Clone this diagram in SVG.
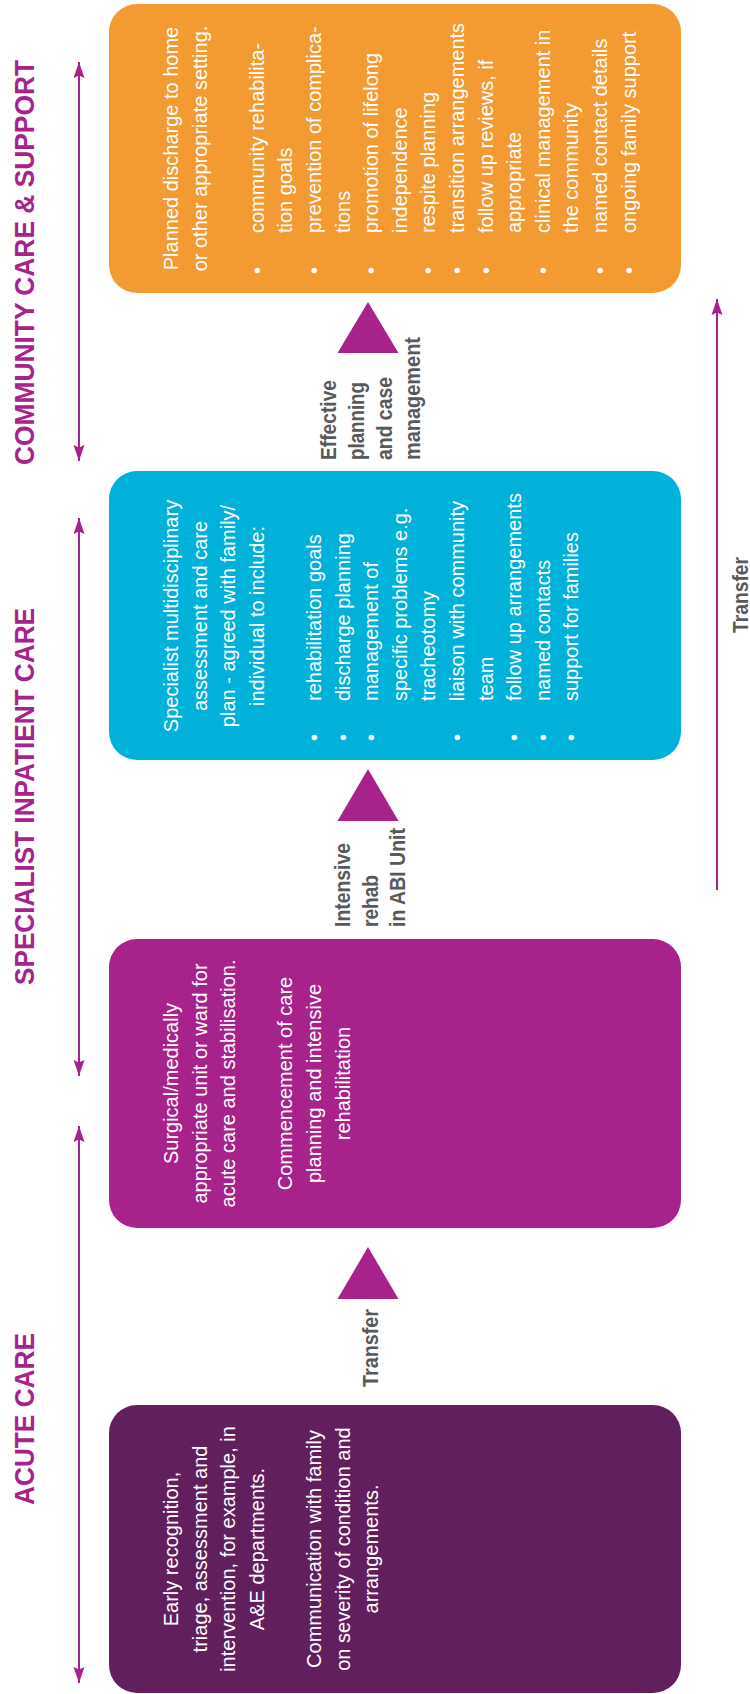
<svg xmlns="http://www.w3.org/2000/svg" width="750" height="1694" viewBox="0 0 750 1694">
<style>
  .body { font-family: "Liberation Sans", Arial, sans-serif; font-size: 20px; fill: #ffffff; }
  .mid { text-anchor: middle; }
  .lbl { font-family: "Liberation Sans", Arial, sans-serif; font-size: 22px; font-weight: bold; fill: #58595b; }
  .title { font-family: "Liberation Sans", Arial, sans-serif; font-size: 28px; font-weight: bold; fill: #a8228c; text-anchor: middle; }
  .axis { stroke: #a8228c; stroke-width: 2; fill: none; }
  .tri { fill: #a8228c; }
</style>
<defs>
  <marker id="ah" viewBox="0 0 16 12" refX="16" refY="6" markerWidth="16" markerHeight="12" markerUnits="userSpaceOnUse" orient="auto-start-reverse">
    <path d="M0,0.5 L16,6 L0,11.5 L2.5,6 Z" fill="#a8228c"/>
  </marker>
</defs>

<!-- Titles -->
<g id="titles" transform="rotate(-90)">
  <text class="title" x="-262.5" y="34" textLength="405" lengthAdjust="spacingAndGlyphs">COMMUNITY CARE &amp; SUPPORT</text>
  <text class="title" x="-796.5" y="34" textLength="377" lengthAdjust="spacingAndGlyphs">SPECIALIST INPATIENT CARE</text>
  <text class="title" x="-1419" y="34" textLength="172" lengthAdjust="spacingAndGlyphs">ACUTE CARE</text>
</g>

<!-- Connectors -->
<g id="connectors">
  <line class="axis" x1="79" y1="62" x2="79" y2="461" marker-start="url(#ah)" marker-end="url(#ah)"/>
  <line class="axis" x1="79" y1="518" x2="79" y2="1076" marker-start="url(#ah)" marker-end="url(#ah)"/>
  <line class="axis" x1="79" y1="1126" x2="79" y2="1683" marker-start="url(#ah)" marker-end="url(#ah)"/>
  <line class="axis" x1="717" y1="890" x2="717" y2="299" marker-end="url(#ah)"/>
  <polygon class="tri" points="368,302 337.5,353 398.5,353"/>
  <polygon class="tri" points="368,769 337.5,821 398.5,821"/>
  <polygon class="tri" points="368,1247 337.5,1299 398.5,1299"/>
  <g transform="rotate(-90)">
    <text class="lbl" x="-1387" y="378" textLength="78" lengthAdjust="spacingAndGlyphs">Transfer</text>
    <text class="lbl" x="-927" y="350" textLength="84" lengthAdjust="spacingAndGlyphs">Intensive</text>
    <text class="lbl" x="-927" y="377.5" textLength="52" lengthAdjust="spacingAndGlyphs">rehab</text>
    <text class="lbl" x="-927" y="405" textLength="99" lengthAdjust="spacingAndGlyphs">in ABI Unit</text>
    <text class="lbl" x="-460" y="336" textLength="80" lengthAdjust="spacingAndGlyphs">Effective</text>
    <text class="lbl" x="-460" y="364" textLength="78" lengthAdjust="spacingAndGlyphs">planning</text>
    <text class="lbl" x="-460" y="392" textLength="83" lengthAdjust="spacingAndGlyphs">and case</text>
    <text class="lbl" x="-460" y="420" textLength="123" lengthAdjust="spacingAndGlyphs">management</text>
    <text class="lbl" x="-633" y="748" textLength="76" lengthAdjust="spacingAndGlyphs">Transfer</text>
  </g>
</g>

<!-- Community care box -->
<g id="community-box">
  <rect x="109" y="4" width="572" height="289" rx="28" ry="28" fill="#f39a32"/>
  <g transform="rotate(-90)" class="body">
    <text class="mid" x="-148.5" y="178">Planned discharge to home</text>
    <text class="mid" x="-148.5" y="206.6">or other appropriate setting.</text>
    <text x="-274" y="263.8">•</text><text x="-233" y="263.8">community rehabilita-</text>
    <text x="-233" y="292.4">tion goals</text>
    <text x="-274" y="321">•</text><text x="-233" y="321">prevention of complica-</text>
    <text x="-233" y="349.6">tions</text>
    <text x="-274" y="378.2">•</text><text x="-233" y="378.2">promotion of lifelong</text>
    <text x="-233" y="406.8">independence</text>
    <text x="-274" y="435.4">•</text><text x="-233" y="435.4">respite planning</text>
    <text x="-274" y="464">•</text><text x="-233" y="464">transition arrangements</text>
    <text x="-274" y="492.6">•</text><text x="-233" y="492.6">follow up reviews, if</text>
    <text x="-233" y="521.2">appropriate</text>
    <text x="-274" y="549.8">•</text><text x="-233" y="549.8">clinical management in</text>
    <text x="-233" y="578.4">the community</text>
    <text x="-274" y="607">•</text><text x="-233" y="607">named contact details</text>
    <text x="-274" y="635.6">•</text><text x="-233" y="635.6">ongoing family support</text>
  </g>
</g>

<!-- Specialist inpatient box -->
<g id="inpatient-box">
  <rect x="109" y="471" width="572" height="289" rx="28" ry="28" fill="#00b1d9"/>
  <g transform="rotate(-90)" class="body">
    <text class="mid" x="-616" y="178">Specialist multidisciplinary</text>
    <text class="mid" x="-616" y="206.6">assessment and care</text>
    <text class="mid" x="-616" y="235.2">plan - agreed with family/</text>
    <text class="mid" x="-616" y="263.8">individual to include:</text>
    <text x="-741" y="321">•</text><text x="-701" y="321">rehabilitation goals</text>
    <text x="-741" y="349.6">•</text><text x="-701" y="349.6">discharge planning</text>
    <text x="-741" y="378.2">•</text><text x="-701" y="378.2">management of</text>
    <text x="-701" y="406.8">specific problems e.g.</text>
    <text x="-701" y="435.4">tracheotomy</text>
    <text x="-741" y="464">•</text><text x="-701" y="464">liaison with community</text>
    <text x="-701" y="492.6">team</text>
    <text x="-741" y="521.2">•</text><text x="-701" y="521.2">follow up arrangements</text>
    <text x="-741" y="549.8">•</text><text x="-701" y="549.8">named contacts</text>
    <text x="-741" y="578.4">•</text><text x="-701" y="578.4">support for families</text>
  </g>
</g>

<!-- Surgical / medical box -->
<g id="surgical-box">
  <rect x="109" y="939" width="572" height="289" rx="28" ry="28" fill="#a8228b"/>
  <g transform="rotate(-90)" class="body mid">
    <text x="-1083.5" y="178">Surgical/medically</text>
    <text x="-1083.5" y="206.6">appropriate unit or ward for</text>
    <text x="-1083.5" y="235.2">acute care and stabilisation.</text>
    <text x="-1083.5" y="292.4">Commencement of care</text>
    <text x="-1083.5" y="321">planning and intensive</text>
    <text x="-1083.5" y="349.6">rehabilitation</text>
  </g>
</g>

<!-- Acute care box -->
<g id="acute-box">
  <rect x="109" y="1405" width="572" height="288" rx="28" ry="28" fill="#621f5d"/>
  <g transform="rotate(-90)" class="body mid">
    <text x="-1549" y="178">Early recognition,</text>
    <text x="-1549" y="206.6">triage, assessment and</text>
    <text x="-1549" y="235.2">intervention, for example, in</text>
    <text x="-1549" y="263.8">A&amp;E departments.</text>
    <text x="-1549" y="321">Communication with family</text>
    <text x="-1549" y="349.6">on severity of condition and</text>
    <text x="-1549" y="378.2">arrangements.</text>
  </g>
</g>
</svg>
